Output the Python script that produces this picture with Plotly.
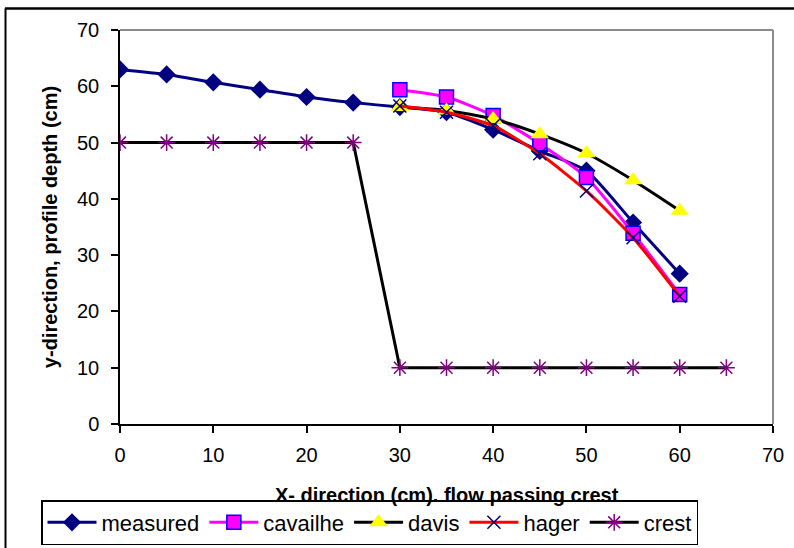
import plotly.graph_objects as go

x_meas = [0, 5, 10, 15, 20, 25, 30, 35, 40, 45, 50, 55, 60]
y_meas = [63, 62.1, 60.7, 59.4, 58.1, 57.1, 56.3, 55.4, 52.3, 48.5, 45, 35.8, 26.7]

x_calc = [30, 35, 40, 45, 50, 55, 60]
y_cavailhe = [59.4, 58.1, 54.8, 49.8, 43.8, 33.9, 23]
y_davis = [56.3, 55.7, 54.2, 51.5, 48.1, 43.3, 37.9]
y_hager = [56.5, 55.4, 53.0, 48.0, 41.4, 33.1, 22.7]

x_crest = [0, 5, 10, 15, 20, 25, 30, 35, 40, 45, 50, 55, 60, 65]
y_crest = [50, 50, 50, 50, 50, 50, 10, 10, 10, 10, 10, 10, 10, 10]

x_title = "X- direction (cm). flow passing crest"
y_title = "y-direction, profile depth (cm)"

FONT = "Arial, Liberation Sans, sans-serif"

fig = go.Figure()
fig.add_trace(go.Scatter(
    x=x_meas, y=y_meas, name="measured", mode="lines+markers",
    line=dict(color="#000080", width=3, shape="spline", smoothing=0.6),
    marker=dict(symbol="diamond", size=14, color="#000080")))
fig.add_trace(go.Scatter(
    x=x_calc, y=y_cavailhe, name="cavailhe", mode="lines+markers",
    line=dict(color="#FF00FF", width=3, shape="spline", smoothing=0.6),
    marker=dict(symbol="square", size=14, color="#FF00FF",
                line=dict(color="#0000FF", width=1.5))))
fig.add_trace(go.Scatter(
    x=x_calc, y=y_davis, name="davis", mode="lines+markers",
    line=dict(color="#000000", width=3, shape="spline", smoothing=0.6),
    marker=dict(symbol="triangle-up", size=16, color="#FFFF00")))
fig.add_trace(go.Scatter(
    x=x_calc, y=y_hager, name="hager", mode="lines+markers",
    line=dict(color="#FF0000", width=3, shape="spline", smoothing=0.6),
    marker=dict(symbol="x-thin", size=13, color="#000080",
                line=dict(color="#000080", width=1.5))))
fig.add_trace(go.Scatter(
    x=x_crest, y=y_crest, name="crest", mode="lines+markers",
    line=dict(color="#000000", width=3),
    marker=dict(symbol="asterisk", size=14, color="#800080",
                line=dict(color="#800080", width=1.5))))

L, R, T, B = 120, 21, 30, 124
W, H = 794, 548
pw, ph = W - L - R, H - T - B

def px2paper_x(px):
    return (px - L) / pw

def px2paper_y(py):
    return (H - B - py) / ph

shapes = [
    # plot-area border (top & right, gray)
    dict(type="line", xref="paper", yref="paper", x0=0, x1=1, y0=1, y1=1,
         line=dict(color="#8c8c8c", width=2)),
    dict(type="line", xref="paper", yref="paper", x0=1, x1=1, y0=0, y1=1,
         line=dict(color="#8c8c8c", width=2)),
    # outer chart frame (top & left, black)
    dict(type="line", xref="paper", yref="paper",
         x0=px2paper_x(5), x1=px2paper_x(800), y0=px2paper_y(8.5), y1=px2paper_y(8.5),
         line=dict(color="#000000", width=2.5)),
    dict(type="line", xref="paper", yref="paper",
         x0=px2paper_x(5.5), x1=px2paper_x(5.5), y0=px2paper_y(8.5), y1=px2paper_y(560),
         line=dict(color="#000000", width=2)),
]

fig.update_layout(
    template="none",
    width=W, height=H,
    margin=dict(l=L, r=R, t=T, b=B, pad=0, autoexpand=False),
    paper_bgcolor="white", plot_bgcolor="white",
    font=dict(family=FONT, size=20, color="black"),
    shapes=shapes,
    annotations=[dict(
        text="<b>" + x_title + "</b>", xref="paper", yref="paper",
        x=0.5, y=px2paper_y(495), xanchor="center", yanchor="middle",
        showarrow=False, font=dict(family=FONT, size=20, color="black"))],
    showlegend=True,
    legend=dict(
        orientation="h", xref="container", yref="container",
        x=41 / W, y=1 - 500 / H,
        xanchor="left", yanchor="top",
        bgcolor="white", bordercolor="black", borderwidth=1.5,
        font=dict(family=FONT, size=22, color="black"),
        itemwidth=49, tracegroupgap=0,
    ),
    xaxis=dict(
        range=[0, 70], dtick=10, tick0=0, automargin=False,
        showgrid=False, zeroline=False,
        showline=True, linecolor="black", linewidth=1.5,
        ticks="outside", ticklen=7, tickcolor="black", tickwidth=1.5,
        ticklabelstandoff=5,
        tickfont=dict(family=FONT, size=20),
        fixedrange=True,
    ),
    yaxis=dict(
        range=[0, 70], dtick=10, tick0=0, automargin=False,
        showgrid=False, zeroline=False,
        showline=True, linecolor="black", linewidth=1.5,
        ticks="outside", ticklen=7, tickcolor="black", tickwidth=1.5,
        ticklabelstandoff=8,
        tickfont=dict(family=FONT, size=20),
        title=dict(text="<b>" + y_title + "</b>",
                   font=dict(family=FONT, size=20), standoff=14),
        fixedrange=True,
    ),
)

fig.write_html("out.html")
